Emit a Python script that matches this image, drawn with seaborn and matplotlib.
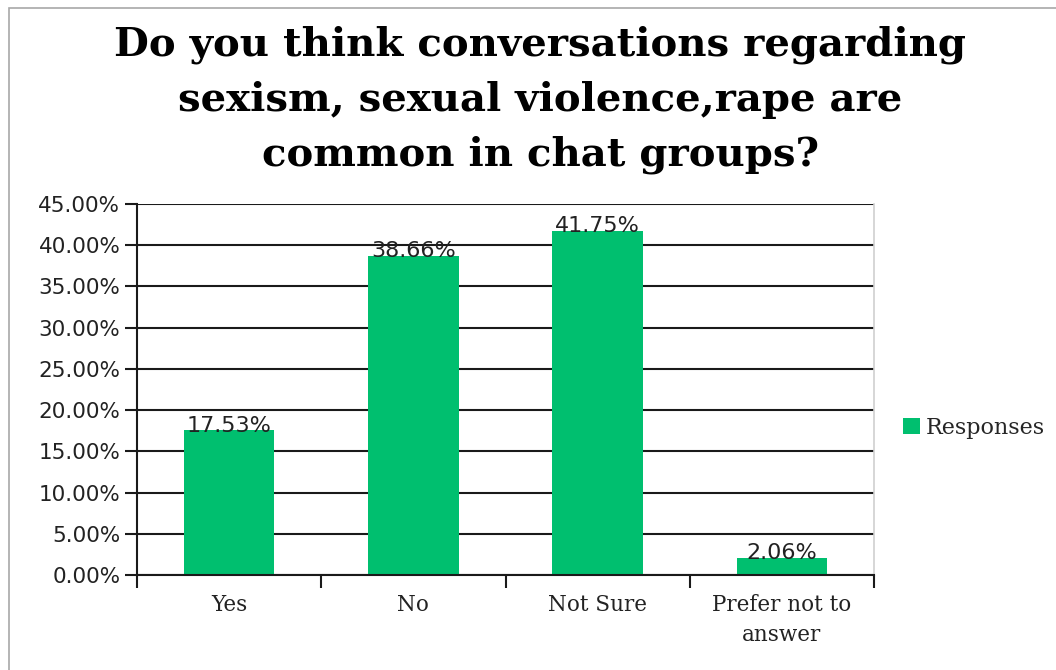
import matplotlib
matplotlib.use("Agg")
import matplotlib.pyplot as plt
import seaborn as sns
import pandas as pd
from matplotlib.patches import Rectangle, Patch
from matplotlib.ticker import FuncFormatter, MultipleLocator

categories = ["Yes", "No", "Not Sure", "Prefer not to\nanswer"]
values = [17.53, 38.66, 41.75, 2.06]
series_name = "Responses"
title = "Do you think conversations regarding\nsexism, sexual violence,rape are\ncommon in chat groups?"

green = "#00BF6F"

sns.set_theme(style="white")
df = pd.DataFrame({"category": categories, "value": values})

fig = plt.figure(figsize=(10.56, 6.70), dpi=100)
ax = fig.add_axes([137/1056, 1-575/670, (874-137)/1056, (575-204)/670])

sns.barplot(data=df, x="category", y="value", color=green, width=0.49,
            saturation=1, ax=ax, edgecolor="none")

ax.set_ylim(0, 45)
ax.set_xlim(-0.5, 3.5)
ax.yaxis.set_major_locator(MultipleLocator(5))
ax.yaxis.set_major_formatter(FuncFormatter(lambda v, p: f"{v:.2f}%"))
ax.grid(axis="y", color="#1a1a1a", linewidth=1.5)
ax.set_axisbelow(True)
ax.set_xlabel("")
ax.set_ylabel("")

ax.spines["top"].set_visible(False)
ax.spines["right"].set_color("#d0d0d0")
ax.spines["right"].set_linewidth(1.2)
ax.spines["left"].set_color("#1a1a1a")
ax.spines["left"].set_linewidth(1.5)
ax.spines["bottom"].set_color("#1a1a1a")
ax.spines["bottom"].set_linewidth(1.5)

ax.tick_params(axis="y", which="major", direction="out", length=9, width=1.5,
               color="#1a1a1a", left=True, labelsize=15.5, pad=3, labelcolor="#222222")
ax.set_xticks([0, 1, 2, 3])
ax.set_xticklabels(categories, fontfamily="DejaVu Serif", fontsize=15.5, color="#222222",
                   linespacing=1.45)
ax.tick_params(axis="x", which="major", length=0, pad=14)
ax.set_xticks([-0.5, 0.5, 1.5, 2.5, 3.5], minor=True)
ax.tick_params(axis="x", which="minor", direction="out", length=9, width=1.5,
               color="#1a1a1a", bottom=True)
for lab in ax.get_yticklabels():
    lab.set_fontfamily("DejaVu Sans")

for i, v in enumerate(values):
    ax.text(i, v + 0.6, f"{v:.2f}%", ha="center", va="center", fontsize=16,
            fontfamily="DejaVu Sans", color="#222222")

fig.text(540/1056, 1-100/670, title, ha="center", va="center",
         fontfamily="DejaVu Serif", fontweight="bold", fontsize=29,
         linespacing=1.55, color="black")

fig.legend(handles=[Patch(facecolor=green, edgecolor="none", label=series_name)],
           loc="center left", bbox_to_anchor=(894/1056, 1-428/670), frameon=False,
           prop={"family": "DejaVu Serif", "size": 16}, handlelength=0.75,
           handleheight=0.75, handletextpad=0.3, borderaxespad=0)

fig.patches.append(Rectangle((9/1056, -0.05), 1.1, 1 - 8/670 + 0.05,
                             transform=fig.transFigure, fill=False,
                             edgecolor="#a8a8a8", linewidth=1.2))

fig.savefig("out.png", dpi=100)
